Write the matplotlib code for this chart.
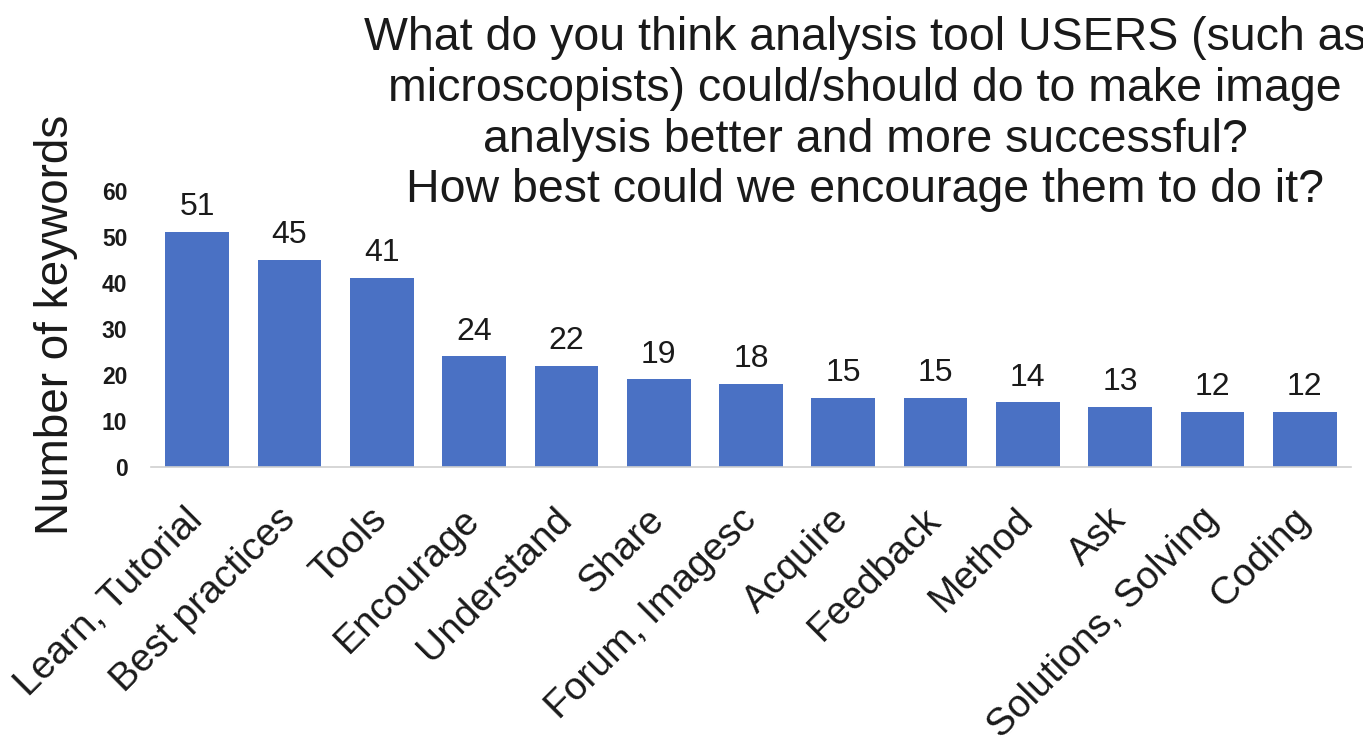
import matplotlib
matplotlib.use("Agg")
import matplotlib.pyplot as plt
from matplotlib.transforms import ScaledTranslation

categories = ["Learn, Tutorial", "Best practices", "Tools", "Encourage",
              "Understand", "Share", "Forum, Imagesc", "Acquire", "Feedback",
              "Method", "Ask", "Solutions, Solving", "Coding"]
counts = [51, 45, 41, 24, 22, 19, 18, 15, 15, 14, 13, 12, 12]
y_ticks = [0, 10, 20, 30, 40, 50, 60]
title_lines = ["What do you think analysis tool USERS (such as",
               "microscopists) could/should do to make image",
               "analysis better and more successful?",
               "How best could we encourage them to do it?"]

BAR_COLOR = "#4a71c4"
W, H = 1363, 751

plt.rcParams["font.family"] = ["Liberation Sans", "DejaVu Sans"]


def main():
    fig = plt.figure(figsize=(W / 100, H / 100), dpi=100)
    ax = fig.add_axes([151 / W, 1 - 467 / H, 1200 / W, 276.5 / H])

    x = list(range(len(categories)))
    ax.bar(x, counts, width=0.69, color=BAR_COLOR)
    ax.set_xlim(-0.5, len(categories) - 0.5)
    ax.set_ylim(0, 60)

    # value above each bar
    for i, v in zip(x, counts):
        ax.annotate(str(v), (i, v), xytext=(0, 12), textcoords="offset points",
                    ha="center", va="baseline", fontsize=23, color="#1a1a1a")

    ax.set_xticks(x)
    ax.set_xticklabels(categories, rotation=45, ha="right", va="baseline",
                       rotation_mode="anchor", fontsize=28, color="#1a1a1a")
    ax.tick_params(axis="x", length=0, pad=39)
    shift = ScaledTranslation(7 / 100, 0, fig.dpi_scale_trans)
    for lbl in ax.get_xticklabels():
        lbl.set_transform(lbl.get_transform() + shift)

    ax.set_yticks(y_ticks)
    ax.set_yticklabels([str(t) for t in y_ticks], fontsize=16.5,
                       fontweight="bold", color="#1a1a1a")
    ax.tick_params(axis="y", length=0, pad=17)

    ax.set_ylabel("Number of keywords", fontsize=33, color="#1a1a1a")
    ax.yaxis.set_label_coords(-0.061, 0.514)

    for side in ("top", "right", "left"):
        ax.spines[side].set_visible(False)
    ax.spines["bottom"].set_color("#d0d0d0")
    ax.spines["bottom"].set_linewidth(1.2)

    fig.text(865 / W, 1 - 16 / H, "\n".join(title_lines), ha="center",
             va="top", fontsize=33.5, linespacing=1.2, color="#1a1a1a")

    fig.savefig("out.png", dpi=100)


if __name__ == "__main__":
    main()
